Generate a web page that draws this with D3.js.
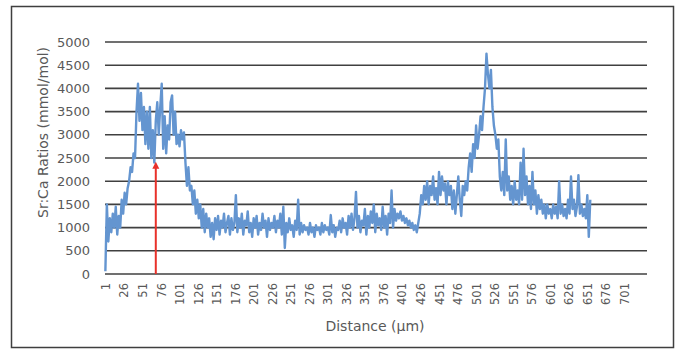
<!DOCTYPE html>
<html>
<head>
<meta charset="utf-8">
<script src="https://cdn.jsdelivr.net/npm/d3@7"></script>
<style>
  html, body { margin: 0; padding: 0; background: #fff; }
  svg { display: block; }
  text { font-family: "DejaVu Sans", sans-serif; fill: #595959; }
</style>
</head>
<body>
<div id="chart"></div>
<script>
// distance step between samples (µm), first sample at 1 µm
const startDistance = 1;
const stepDistance = 2;

// Sr:Ca ratio (mmol/mol), every 2 µm from 1 to 655
const ratios = [
  60, 1500, 700, 1200, 900, 1300, 1000, 1450, 850, 1250,
  1000, 1600, 1300, 1750, 1500, 1850, 2000, 2300, 2200, 2600,
  2500, 3500, 4100, 3300, 3900, 3100, 3600, 2800, 3500, 2700,
  3600, 2500, 3100, 2400, 3300, 3700, 3000, 3600, 4100, 2700,
  3400, 2600, 3200, 2900, 3700, 3850, 3000, 3500, 2800, 3000,
  2750, 3100, 2900, 3050, 2400, 1900, 2300, 1800, 1900, 1500,
  1800, 1300, 1600, 1200, 1500, 1000, 1400, 900, 1300, 1000,
  1200, 800, 1100, 750, 1200, 950, 1250, 850, 1150, 1000,
  1300, 900, 1100, 1250, 850, 1200, 950, 1100, 1700, 900,
  1200, 1000, 1300, 850, 1150, 1050, 1350, 900, 1100, 800,
  1200, 1000, 1250, 850, 1100, 950, 1300, 1000, 1150, 800,
  1200, 950, 1100, 1000, 1250, 900, 1150, 1000, 1300, 850,
  1450, 560, 1100, 900, 1200, 950, 1050, 800, 1150, 950,
  1600, 850, 1100, 900, 1050, 950, 1000, 850, 1100, 900,
  1000, 800, 1050, 950, 1000, 850, 1100, 900, 1050, 950,
  1000, 850, 1270, 900, 1050, 800, 1000, 950, 1150, 900,
  1200, 1000, 1100, 850, 1250, 1000, 1300, 950, 1200, 1770,
  1000, 1250, 900, 1150, 1050, 1400, 850, 1250, 1000, 1350,
  1100, 1500, 900, 1300, 1050, 1200, 950, 1450, 1000, 1250,
  850, 1300, 1100, 1800, 1000, 1400, 1150, 1300, 1200, 1350,
  1150, 1250, 1100, 1200, 1050, 1150, 1000, 1100, 950, 1050,
  900, 1100, 1300, 1700, 1500, 1900, 1600, 2000, 1500, 1900,
  1700, 2100, 1600, 1850, 1500, 2200, 1700, 2100, 1800, 1950,
  1500, 2000, 1700, 1900, 1400, 1800, 1300, 1700, 2100, 1600,
  1250, 1900, 1700, 2000, 1800, 2300, 2600, 2200, 2800, 2500,
  3200, 2700, 3000, 3400, 3100, 3600, 4000, 4750, 4300, 4000,
  4400, 3600, 3200, 3000, 2700, 2900, 2100, 1800, 2200, 1700,
  2900, 1800, 2100, 1600, 1900, 1500, 2000, 1600, 1800, 1500,
  2400, 1600, 2700, 1700, 2100, 1500, 1900, 1400, 2200, 1500,
  1800, 1300, 1700, 1400, 1600, 1300, 1500, 1200, 1500, 1300,
  1400, 1200, 1500, 1300, 1450, 1200, 2000, 1300, 1500, 1250,
  1400, 1200, 1600, 1300, 2100, 1400, 1600, 1250, 1450, 2130,
  1300, 1500, 1250, 1400, 1200, 1700, 800, 1600
];

// axis ticks
const xTickLabels = [1, 26, 51, 76, 101, 126, 151, 176, 201, 226, 251, 276, 301, 326,
  351, 376, 401, 426, 451, 476, 501, 526, 551, 576, 601, 626, 651, 676, 701];
const yTicks = [0, 500, 1000, 1500, 2000, 2500, 3000, 3500, 4000, 4500, 5000];

// number of categories on the x axis (rows in the sheet)
const categoryCount = 731;

// red arrow annotation (distance, ratio at tip)
const arrowAt = 69;
const arrowTip = 2420;

const width = 678, height = 349;
const margin = { top: 42, right: 31, bottom: 75, left: 105 };

const svg = d3.select('#chart').append('svg')
  .attr('width', width)
  .attr('height', height);

// outer frame
svg.append('rect')
  .attr('x', 11.5).attr('y', 6.5)
  .attr('width', 662).attr('height', 341)
  .attr('fill', 'none')
  .attr('stroke', '#3f3f3f')
  .attr('stroke-width', 1.5);

const xScale = d3.scaleLinear()
  .domain([0.5, categoryCount + 0.5])
  .range([margin.left, width - margin.right]);

const yScale = d3.scaleLinear()
  .domain([0, 5000])
  .range([height - margin.bottom, margin.top]);

// gridlines
svg.append('g')
  .selectAll('line')
  .data(yTicks)
  .join('line')
  .attr('x1', margin.left)
  .attr('x2', width - margin.right)
  .attr('y1', d => yScale(d))
  .attr('y2', d => yScale(d))
  .attr('stroke', '#404040')
  .attr('stroke-width', 1.6);

// y axis labels
const yAxis = d3.axisLeft(yScale)
  .tickValues(yTicks)
  .tickFormat(d3.format('d'))
  .tickSize(0)
  .tickPadding(15);
const yAxisGroup = svg.append('g')
  .attr('transform', `translate(${margin.left},0)`)
  .call(yAxis);
yAxisGroup.select('.domain').remove();
yAxisGroup.selectAll('text')
  .style('font-size', '13px')
  .style('font-family', '"DejaVu Sans", sans-serif')
  .attr('fill', '#595959');

// x axis labels (rotated)
const xAxis = d3.axisBottom(xScale).tickValues(xTickLabels).tickSize(0).tickPadding(0);
const xAxisGroup = svg.append('g')
  .attr('transform', `translate(0,${height - margin.bottom})`)
  .call(xAxis);
xAxisGroup.select('.domain').remove();
xAxisGroup.selectAll('text')
  .style('font-size', '11.5px')
  .style('font-family', '"DejaVu Sans", sans-serif')
  .attr('fill', '#595959')
  .attr('transform', 'rotate(-90)')
  .attr('x', -9)
  .attr('y', 0)
  .attr('dy', '0.35em')
  .attr('text-anchor', 'end');

// data line
const line = d3.line()
  .x((d, i) => xScale(startDistance + i * stepDistance))
  .y(d => yScale(d));

svg.append('path')
  .datum(ratios)
  .attr('fill', 'none')
  .attr('stroke', '#6495d0')
  .attr('stroke-width', 2.4)
  .attr('stroke-linejoin', 'round')
  .attr('d', line);

// red arrow
const ax = xScale(arrowAt);
svg.append('line')
  .attr('x1', ax).attr('x2', ax)
  .attr('y1', yScale(0)).attr('y2', yScale(arrowTip) + 5)
  .attr('stroke', '#e8312a')
  .attr('stroke-width', 2);
svg.append('path')
  .attr('d', `M${ax},${yScale(arrowTip)} L${ax - 3.5},${yScale(arrowTip) + 7} L${ax + 3.5},${yScale(arrowTip) + 7} Z`)
  .attr('fill', '#e8312a');

// axis titles
svg.append('text')
  .attr('x', 375)
  .attr('y', 331)
  .attr('text-anchor', 'middle')
  .style('font-size', '14px')
  .text('Distance (µm)');

svg.append('text')
  .attr('transform', 'translate(48,218) rotate(-90)')
  .attr('text-anchor', 'start')
  .style('font-size', '14px')
  .text('Sr:Ca Ratios (mmol/mol)');
</script>
</body>
</html>
